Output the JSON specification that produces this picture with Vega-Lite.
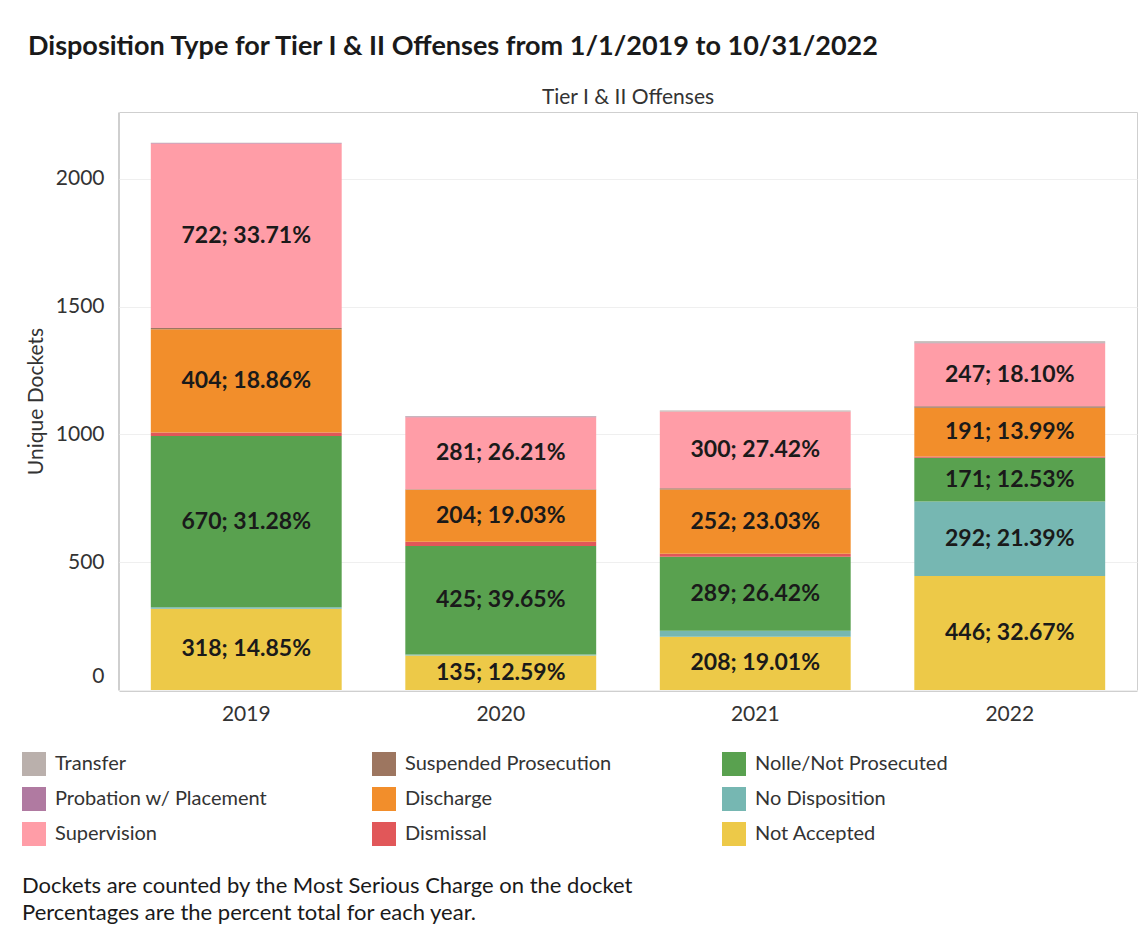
{
  "$schema": "https://vega.github.io/schema/vega-lite/v6.json",
  "background": "white",
  "padding": {"left": 22, "top": 33, "right": 2, "bottom": 5},
  "title": {
    "text": "Disposition Type for Tier I & II Offenses from 1/1/2019 to 10/31/2022",
    "anchor": "start",
    "font": "Lato",
    "fontSize": 27,
    "fontWeight": "bold",
    "color": "#1a1a1a",
    "offset": 26,
    "dx": 6
  },
  "data": {
    "values": [
      {"tier": "Tier I & II Offenses", "year": "2019", "disposition": "Not Accepted", "rank": 1, "dockets": 318, "label": "318; 14.85%"},
      {"tier": "Tier I & II Offenses", "year": "2019", "disposition": "No Disposition", "rank": 2, "dockets": 6, "label": ""},
      {"tier": "Tier I & II Offenses", "year": "2019", "disposition": "Nolle/Not Prosecuted", "rank": 3, "dockets": 670, "label": "670; 31.28%"},
      {"tier": "Tier I & II Offenses", "year": "2019", "disposition": "Dismissal", "rank": 4, "dockets": 14, "label": ""},
      {"tier": "Tier I & II Offenses", "year": "2019", "disposition": "Discharge", "rank": 5, "dockets": 404, "label": "404; 18.86%"},
      {"tier": "Tier I & II Offenses", "year": "2019", "disposition": "Suspended Prosecution", "rank": 6, "dockets": 5, "label": ""},
      {"tier": "Tier I & II Offenses", "year": "2019", "disposition": "Supervision", "rank": 7, "dockets": 722, "label": "722; 33.71%"},
      {"tier": "Tier I & II Offenses", "year": "2019", "disposition": "Probation w/ Placement", "rank": 8, "dockets": 2, "label": ""},
      {"tier": "Tier I & II Offenses", "year": "2019", "disposition": "Transfer", "rank": 9, "dockets": 1, "label": ""},

      {"tier": "Tier I & II Offenses", "year": "2020", "disposition": "Not Accepted", "rank": 1, "dockets": 135, "label": "135; 12.59%"},
      {"tier": "Tier I & II Offenses", "year": "2020", "disposition": "No Disposition", "rank": 2, "dockets": 4, "label": ""},
      {"tier": "Tier I & II Offenses", "year": "2020", "disposition": "Nolle/Not Prosecuted", "rank": 3, "dockets": 425, "label": "425; 39.65%"},
      {"tier": "Tier I & II Offenses", "year": "2020", "disposition": "Dismissal", "rank": 4, "dockets": 16, "label": ""},
      {"tier": "Tier I & II Offenses", "year": "2020", "disposition": "Discharge", "rank": 5, "dockets": 204, "label": "204; 19.03%"},
      {"tier": "Tier I & II Offenses", "year": "2020", "disposition": "Suspended Prosecution", "rank": 6, "dockets": 2, "label": ""},
      {"tier": "Tier I & II Offenses", "year": "2020", "disposition": "Supervision", "rank": 7, "dockets": 281, "label": "281; 26.21%"},
      {"tier": "Tier I & II Offenses", "year": "2020", "disposition": "Probation w/ Placement", "rank": 8, "dockets": 3, "label": ""},
      {"tier": "Tier I & II Offenses", "year": "2020", "disposition": "Transfer", "rank": 9, "dockets": 2, "label": ""},

      {"tier": "Tier I & II Offenses", "year": "2021", "disposition": "Not Accepted", "rank": 1, "dockets": 208, "label": "208; 19.01%"},
      {"tier": "Tier I & II Offenses", "year": "2021", "disposition": "No Disposition", "rank": 2, "dockets": 24, "label": ""},
      {"tier": "Tier I & II Offenses", "year": "2021", "disposition": "Nolle/Not Prosecuted", "rank": 3, "dockets": 289, "label": "289; 26.42%"},
      {"tier": "Tier I & II Offenses", "year": "2021", "disposition": "Dismissal", "rank": 4, "dockets": 12, "label": ""},
      {"tier": "Tier I & II Offenses", "year": "2021", "disposition": "Discharge", "rank": 5, "dockets": 252, "label": "252; 23.03%"},
      {"tier": "Tier I & II Offenses", "year": "2021", "disposition": "Suspended Prosecution", "rank": 6, "dockets": 5, "label": ""},
      {"tier": "Tier I & II Offenses", "year": "2021", "disposition": "Supervision", "rank": 7, "dockets": 300, "label": "300; 27.42%"},
      {"tier": "Tier I & II Offenses", "year": "2021", "disposition": "Probation w/ Placement", "rank": 8, "dockets": 0, "label": ""},
      {"tier": "Tier I & II Offenses", "year": "2021", "disposition": "Transfer", "rank": 9, "dockets": 4, "label": ""},

      {"tier": "Tier I & II Offenses", "year": "2022", "disposition": "Not Accepted", "rank": 1, "dockets": 446, "label": "446; 32.67%"},
      {"tier": "Tier I & II Offenses", "year": "2022", "disposition": "No Disposition", "rank": 2, "dockets": 292, "label": "292; 21.39%"},
      {"tier": "Tier I & II Offenses", "year": "2022", "disposition": "Nolle/Not Prosecuted", "rank": 3, "dockets": 171, "label": "171; 12.53%"},
      {"tier": "Tier I & II Offenses", "year": "2022", "disposition": "Dismissal", "rank": 4, "dockets": 5, "label": ""},
      {"tier": "Tier I & II Offenses", "year": "2022", "disposition": "Discharge", "rank": 5, "dockets": 191, "label": "191; 13.99%"},
      {"tier": "Tier I & II Offenses", "year": "2022", "disposition": "Suspended Prosecution", "rank": 6, "dockets": 5, "label": ""},
      {"tier": "Tier I & II Offenses", "year": "2022", "disposition": "Supervision", "rank": 7, "dockets": 247, "label": "247; 18.10%"},
      {"tier": "Tier I & II Offenses", "year": "2022", "disposition": "Probation w/ Placement", "rank": 8, "dockets": 2, "label": ""},
      {"tier": "Tier I & II Offenses", "year": "2022", "disposition": "Transfer", "rank": 9, "dockets": 6, "label": ""}
    ]
  },
  "facet": {
    "column": {
      "field": "tier",
      "type": "nominal",
      "header": {
        "title": null,
        "labelFont": "Lato",
        "labelFontSize": 21,
        "labelColor": "#333333",
        "labelPadding": 3
      }
    }
  },
  "spec": {
    "width": 1018,
    "height": 578,
    "encoding": {
      "x": {
        "field": "year",
        "type": "nominal",
        "scale": {"paddingInner": 0.25, "paddingOuter": 0.125},
        "axis": {
          "title": null,
          "labelAngle": 0,
          "ticks": false,
          "labelPadding": 12,
          "labelFontSize": 21,
          "labelColor": "#333333",
          "domainColor": "#cfcfcf"
        }
      },
      "y": {
        "field": "dockets",
        "type": "quantitative",
        "stack": "zero",
        "scale": {"domain": [0, 2262], "nice": false},
        "axis": {
          "title": "Unique Dockets",
          "format": "d",
          "values": [0, 500, 1000, 1500, 2000],
          "ticks": false,
          "labelPadding": 14,
          "labelFontSize": 21,
          "labelColor": "#333333",
          "labelOffset": {"condition": {"test": "datum.value === 0", "value": -14}, "value": 0},
          "titleFontSize": 21,
          "titleFontWeight": "normal",
          "titleColor": "#333333",
          "titlePadding": 9,
          "domainColor": "#cfcfcf",
          "gridColor": "#efefef"
        }
      },
      "order": {"field": "rank", "type": "quantitative"}
    },
    "layer": [
      {
        "mark": {"type": "bar"},
        "encoding": {
          "color": {
            "field": "disposition",
            "type": "nominal",
            "scale": {
              "domain": ["Transfer", "Suspended Prosecution", "Nolle/Not Prosecuted", "Probation w/ Placement", "Discharge", "No Disposition", "Supervision", "Dismissal", "Not Accepted"],
              "range": ["#BAB0AC", "#9D7660", "#59A14F", "#B07AA1", "#F28E2B", "#76B7B2", "#FF9DA7", "#E15759", "#EDC948"]
            },
            "legend": {
              "orient": "none",
              "legendX": -97,
              "legendY": 640,
              "direction": "horizontal",
              "columns": 3,
              "gridAlign": "all",
              "columnPadding": 104,
              "rowPadding": 11,
              "symbolType": "square",
              "symbolSize": 576,
              "symbolStrokeWidth": 0,
              "symbolOpacity": 1,
              "labelFont": "Lato",
              "labelFontSize": 20,
              "labelColor": "#333333",
              "labelOffset": 9,
              "labelLimit": 400,
              "title": ["Dockets are counted by the Most Serious Charge on the docket", "Percentages are the percent total for each year."],
              "titleOrient": "bottom",
              "titleAnchor": "start",
              "titleFont": "Lato",
              "titleFontSize": 22,
              "titleFontWeight": "normal",
              "titleColor": "#1a1a1a",
              "titleLineHeight": 27,
              "titlePadding": 30,
              "titleLimit": 1000
            }
          }
        }
      },
      {
        "mark": {"type": "text", "font": "Lato", "fontSize": 23, "fontWeight": "bold", "color": "#1a1a1a", "baseline": "middle"},
        "encoding": {
          "y": {"field": "dockets", "type": "quantitative", "stack": "zero", "bandPosition": 0.5},
          "text": {"field": "label"}
        }
      }
    ]
  },
  "config": {
    "font": "Lato",
    "view": {"stroke": "#cfcfcf"},
    "axis": {"labelFont": "Lato", "titleFont": "Lato"}
  }
}
